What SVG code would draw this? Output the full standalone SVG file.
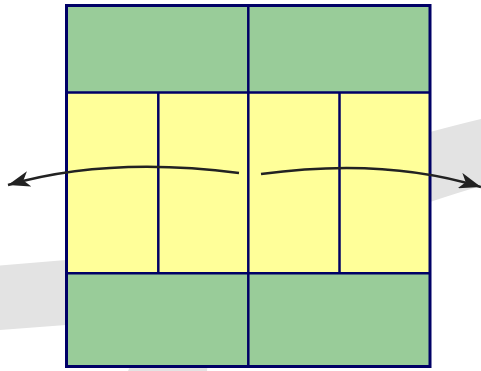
<svg xmlns="http://www.w3.org/2000/svg" width="481" height="371" viewBox="0 0 481 371">
<style>
.band{fill:#e3e3e3;stroke:none}
.green{fill:#99cc99;stroke:none}
.yellow{fill:#ffff99;stroke:none}
.grid{fill:none;stroke:#000066;stroke-width:2.5}
.outer{fill:none;stroke:#000066;stroke-width:3}
.arrow{fill:none;stroke:#222222;stroke-width:2.5;marker-end:url(#head)}
</style>
<defs>
<marker id="head" markerUnits="userSpaceOnUse" markerWidth="24" markerHeight="16" refX="22" refY="8" orient="auto" viewBox="0 0 24 16">
<path d="M0,0 L22,8 L0,16 L6,8 Z" fill="#222222"/>
</marker>
</defs>
<g id="background">
<path class="band" d="M0,265.5 L66,260 L150,250 L150,320 L66,325 L0,330 Z"/>
<path class="band" d="M400,140 L430,132 Q460,124 481,119 L481,186 Q460,192 430,202 L400,210 Z"/>
<path class="band" d="M133,360 L208,360 L207,371 L128,371 Z"/>
</g>
<g id="box">
<rect id="top-left" class="green" x="66.5" y="5.5" width="182" height="87"/>
<rect id="top-right" class="green" x="248.5" y="5.5" width="181.5" height="87"/>
<rect id="middle" class="yellow" x="66.5" y="92.5" width="363.5" height="181"/>
<rect id="bottom-left" class="green" x="66.5" y="273.5" width="182" height="93"/>
<rect id="bottom-right" class="green" x="248.5" y="273.5" width="181.5" height="93"/>
<line class="grid" x1="66.5" y1="92.5" x2="430" y2="92.5"/>
<line class="grid" x1="66.5" y1="273.3" x2="430" y2="273.3"/>
<line class="grid" x1="248.3" y1="5.5" x2="248.3" y2="366.5"/>
<line class="grid" x1="158.3" y1="92.5" x2="158.3" y2="273.3"/>
<line class="grid" x1="339.5" y1="92.5" x2="339.5" y2="273.3"/>
<rect class="outer" x="66.5" y="5.5" width="363.5" height="361"/>
</g>
<g id="connectors">
<path class="arrow" d="M239,173 C185,166 95,160 8,185"/>
<path class="arrow" d="M261,174 C320,166 400,162 481,187"/>
</g>
</svg>
